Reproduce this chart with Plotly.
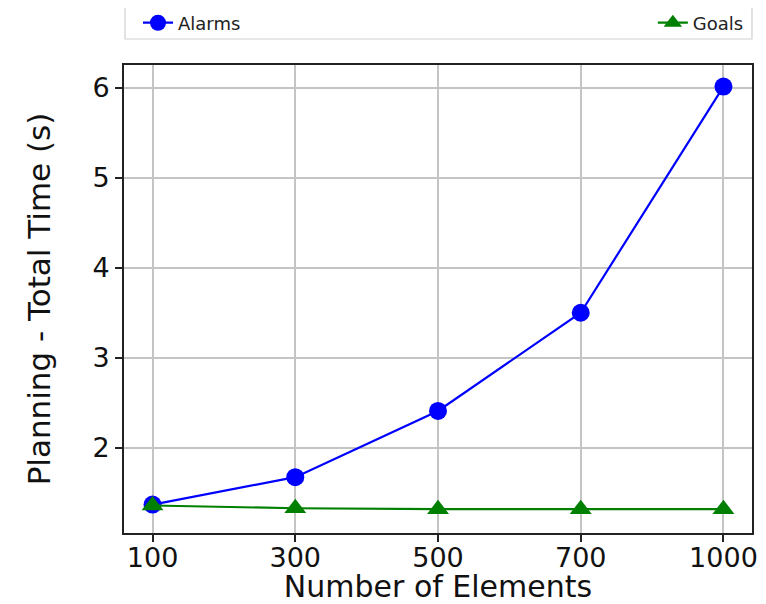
import plotly.graph_objects as go

elements = ["100", "300", "500", "700", "1000"]
alarms = [1.37, 1.675, 2.41, 3.50, 6.01]
goals = [1.36, 1.33, 1.32, 1.32, 1.32]

FONT = "DejaVu Sans"

fig = go.Figure()
fig.add_trace(go.Scatter(
    x=elements, y=alarms, name="Alarms", mode="lines+markers",
    line=dict(color="#0000ff", width=2.2),
    marker=dict(symbol="circle", size=18, color="#0000ff"),
    legend="legend", showlegend=True,
))
fig.add_trace(go.Scatter(
    x=elements, y=goals, name="Goals", mode="lines+markers",
    line=dict(color="#008000", width=2.2),
    marker=dict(symbol="triangle-up", size=19, color="#008000"),
    legend="legend2", showlegend=True,
))

axis_common = dict(
    showline=True, linecolor="#222222", linewidth=1.6, mirror=True,
    showgrid=True, gridcolor="#c4c4c4", gridwidth=1.6,
    ticks="outside", ticklen=7, tickwidth=1.6, tickcolor="#222222",
    tickfont=dict(family=FONT, size=27, color="#111111"),
    zeroline=False, automargin=True,
)

# the page body adds an 8px offset, so the figure is 8px smaller on each axis
fig.update_layout(
    width=758, height=596,
    margin=dict(l=116, r=14, t=57, b=71, autoexpand=False),
    paper_bgcolor="white", plot_bgcolor="white",
    font=dict(family=FONT),
    showlegend=True,
    xaxis=dict(
        type="category", range=[-0.2, 4.2],
        ticklabelstandoff=-7,
        title=dict(text="Number of Elements", font=dict(family=FONT, size=30, color="#111111"), standoff=9),
        **axis_common,
    ),
    yaxis=dict(
        range=[1.055, 6.25], dtick=1, tick0=0,
        title=dict(text="Planning - Total Time (s)", font=dict(family=FONT, size=31, color="#111111"), standoff=33),
        **axis_common,
    ),
    legend=dict(
        x=0.0223, y=1.0897, xanchor="left", yanchor="middle",
        bgcolor="rgba(0,0,0,0)", borderwidth=0,
        font=dict(family=FONT, size=18, color="#222222"),
    ),
    legend2=dict(
        x=0.995, y=1.0897, xanchor="right", yanchor="middle",
        bgcolor="rgba(0,0,0,0)", borderwidth=0,
        font=dict(family=FONT, size=18, color="#222222"),
    ),
    shapes=[dict(
        type="rect", xref="paper", yref="paper",
        x0=0.0016, x1=1.0, y0=1.0556, y1=1.1239,
        line=dict(color="#d0d0d0", width=1.2), fillcolor="white", layer="below",
    )],
)

fig.write_html("out.html")
